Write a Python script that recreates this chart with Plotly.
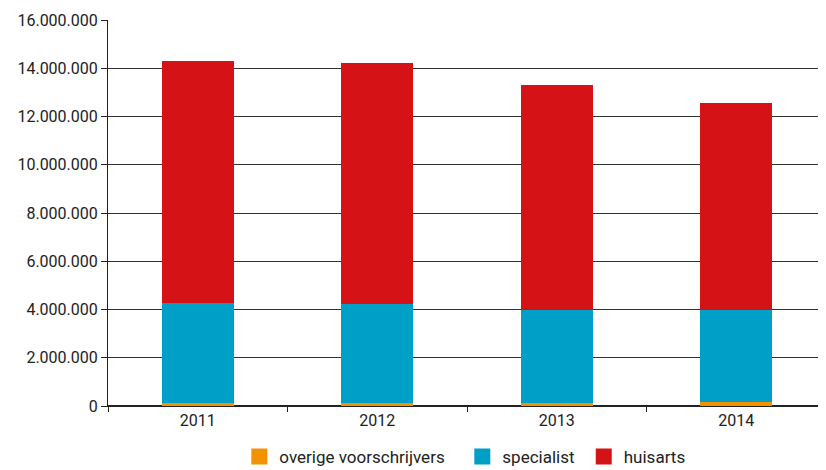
import plotly.graph_objects as go

years = ["2011", "2012", "2013", "2014"]
overige = [110000, 110000, 110000, 160000]
specialist = [4170000, 4120000, 3890000, 3810000]
huisarts = [10020000, 9990000, 9310000, 8590000]

y_ticks = [0, 2000000, 4000000, 6000000, 8000000, 10000000, 12000000, 14000000, 16000000]
y_labels = ["0", "2.000.000", "4.000.000", "6.000.000", "8.000.000", "10.000.000",
            "12.000.000", "14.000.000", "16.000.000"]

series = [("overige voorschrijvers", overige, "#F39200"),
          ("specialist", specialist, "#009FC8"),
          ("huisarts", huisarts, "#D51317")]
pad = ["\u00a0\u00a0\u00a0", "\u00a0", ""]

fig = go.Figure()
for name, vals, col in series:
    fig.add_trace(go.Bar(x=years, y=vals, name=name, marker_color=col,
                         marker_line_width=0, showlegend=False))
for (name, vals, col), p in zip(series, pad):
    fig.add_trace(go.Scatter(x=[None], y=[None], mode="markers", name=name + p,
                             marker=dict(symbol="square", size=16, color=col)))

fig.update_layout(
    barmode="stack",
    bargap=0.6,
    width=818, height=462,
    margin=dict(l=100, r=0, t=12, b=64),
    plot_bgcolor="white", paper_bgcolor="white",
    font=dict(family="Roboto", size=16, color="#222222"),
    legend=dict(orientation="h", x=0.497, xanchor="center",
                yref="container", y=0.028, yanchor="middle",
                traceorder="normal", font=dict(size=17), itemwidth=30),
    xaxis=dict(showline=True, linecolor="#222222", linewidth=1, ticks="outside",
               tickson="boundaries", ticklen=5, tickcolor="#222222", showgrid=False,
               automargin=False, range=[-0.5, 3.5]),
    yaxis=dict(range=[0, 16000000], tickvals=y_ticks, ticktext=y_labels,
               showgrid=True, gridcolor="#333333", gridwidth=1,
               showline=True, linecolor="#222222", linewidth=1,
               ticks="outside", ticklen=6, tickcolor="#222222",
               zeroline=True, zerolinecolor="#222222", automargin=False),
)

fig.write_html("out.html")
